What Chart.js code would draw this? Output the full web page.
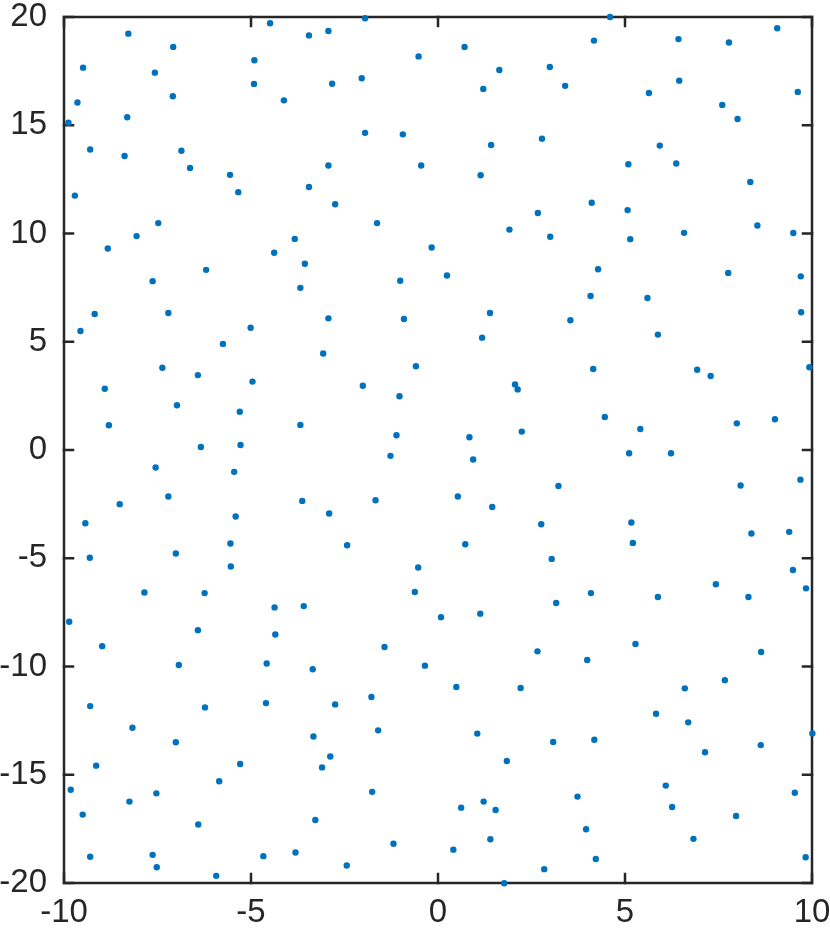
<!DOCTYPE html>
<html>
<head>
<meta charset="utf-8">
<script src="https://cdn.jsdelivr.net/npm/chart.js@4/dist/chart.umd.min.js"></script>
<style>
  html, body { margin: 0; padding: 0; background: #ffffff; }
  #wrap { width: 830px; height: 928px; }
</style>
</head>
<body>
<div id="wrap"><canvas id="scatterChart" width="830" height="928"></canvas></div>
<script>
// tick values / labels
const xTickValues = [-10, -5, 0, 5, 10];
const xTickLabels = ["-10", "-5", "0", "5", "10"];
const yTickValues = [-20, -15, -10, -5, 0, 5, 10, 15, 20];
const yTickLabels = ["-20", "-15", "-10", "-5", "0", "5", "10", "15", "20"];

// points (upper half, x < 0)
const xUpperLeft = [-8.28, -7.08, -9.49, -7.57, -9.64, -7.09, -8.31, -9.88, -9.30, -8.38, -6.86, -6.63, -5.56, -5.34,
    -9.71, -7.48, -8.06, -8.83, -6.20, -7.63, -4.49, -3.45, -2.93, -1.95, -4.91, -4.92, -2.83, -2.04, -4.12, -0.52,
    -1.95, -0.94, -2.93, -0.45, -3.45, -2.75, -1.63, -3.83, -4.38, -3.56, -3.68, -1.01];
const yUpperLeft = [19.23, 18.62, 17.66, 17.43, 16.05, 16.34, 15.37, 15.12, 13.88, 13.58, 13.82, 13.03, 12.71, 11.91,
    11.75, 10.48, 9.88, 9.31, 8.32, 7.80, 19.71, 19.15, 19.35, 19.94, 18.00, 16.91, 16.92, 17.17, 16.15, 18.18,
    14.65, 14.58, 13.14, 13.14, 12.15, 11.35, 10.48, 9.75, 9.11, 8.60, 7.49, 7.82];

// upper, x > 0
const xUpperRight = [4.60, 0.71, 4.17, 6.43, 7.78, 9.07, 1.64, 2.99, 1.21, 3.40, 5.64, 6.45, 9.62, 7.60, 8.01, 1.42,
    2.78, 5.93, 5.09, 6.37, 1.14, 8.35, 4.11, 2.67, 5.07, 1.91, 3.00, 5.14, 6.58, 8.54, 9.50, -0.17, 0.24, 4.28,
    7.76, 9.70, 4.08, 5.60];
const yUpperRight = [20.0, 18.62, 18.91, 18.98, 18.82, 19.48, 17.55, 17.69, 16.68, 16.82, 16.49, 17.06, 16.54, 15.94,
    15.29, 14.09, 14.38, 14.06, 13.20, 13.23, 12.69, 12.38, 11.42, 10.95, 11.08, 10.18, 9.85, 9.74, 10.03, 10.37,
    10.02, 9.35, 8.06, 8.35, 8.18, 8.02, 7.11, 7.02];

// middle band, x < 0
const xMiddleLeft = [-9.18, -7.21, -9.56, -5.01, -2.93, -0.91, -5.75, -3.07, -7.37, -6.42, -4.96, -0.59, -8.91, -2.01,
    -1.03, -6.98, -5.30, -8.80, -3.68, -1.11, -6.34, -5.28, -1.27, -7.55, -5.45, -7.21, -8.51, -3.63, -1.67, -2.91,
    -9.43, -5.41, -5.55, -2.43, -9.31, -7.01, -5.54, -0.53];
const yMiddleLeft = [6.28, 6.33, 5.50, 5.65, 6.08, 6.05, 4.90, 4.46, 3.80, 3.46, 3.16, 3.87, 2.83, 2.97, 2.48, 2.07,
    1.77, 1.14, 1.16, 0.68, 0.14, 0.23, -0.27, -0.81, -1.01, -2.15, -2.50, -2.35, -2.32, -2.93, -3.38, -3.07,
    -4.32, -4.40, -4.98, -4.78, -5.38, -5.43];

// middle band, x > 0
const xMiddleRight = [1.39, 3.54, 9.71, 1.18, 5.88, 4.15, 6.93, 7.29, 9.93, 2.06, 2.13, 4.46, 7.99, 9.01, 5.41, 0.84,
    2.24, 0.94, 5.11, 6.23, 9.69, 3.22, 8.09, 0.53, 1.45, 2.76, 5.17, 8.38, 9.39, 0.73, 5.21, 3.04, 9.49, 7.43];
const yMiddleRight = [6.33, 5.99, 6.36, 5.19, 5.33, 3.74, 3.71, 3.42, 3.82, 3.03, 2.80, 1.53, 1.23, 1.42, 0.97, 0.59,
    0.85, -0.44, -0.15, -0.15, -1.37, -1.66, -1.64, -2.15, -2.63, -3.43, -3.35, -3.86, -3.78, -4.35, -4.29, -5.03,
    -5.54, -6.20];

// lower, x < 0
const xLowerLeft = [-7.85, -6.24, -0.62, -4.37, -3.59, -9.86, -6.42, -4.35, -8.98, -1.43, -6.93, -4.58, -3.35, -0.35,
    -9.30, -6.23, -4.60, -2.75, -1.78, -8.17, -7.01, -3.33, -1.60, -9.14, -5.29, -2.88, -3.10, -9.82, -7.53, -8.25,
    -5.85, -1.76, -9.50, -6.41, -3.28, -1.19, -9.30, -7.63, -7.52, -4.67, -3.81, -2.44, -5.93];
const yLowerLeft = [-6.58, -6.61, -6.56, -7.27, -7.21, -7.93, -8.32, -8.52, -9.06, -9.10, -9.93, -9.86, -10.13, -9.96,
    -11.83, -11.89, -11.69, -11.75, -11.41, -12.83, -13.50, -13.23, -12.95, -14.58, -14.50, -14.16, -14.66, -15.69,
    -15.86, -16.24, -15.30, -15.79, -16.84, -17.30, -17.09, -18.19, -18.79, -18.70, -19.27, -18.76, -18.59, -19.19,
    -19.67];

// lower, x > 0
const xLowerRight = [9.84, 4.09, 5.88, 8.30, 3.16, 0.08, 1.13, 2.66, 3.99, 5.28, 8.64, 0.49, 2.21, 6.60, 7.67, 5.83,
    6.69, 1.05, 3.08, 4.18, 1.84, 7.14, 8.63, 10.01, 6.09, 9.54, 0.62, 1.22, 1.54, 3.73, 6.26, 7.97, 0.41, 1.40,
    3.96, 6.83, 2.84, 4.22, 9.83, 1.77];
const yLowerRight = [-6.39, -6.61, -6.79, -6.79, -7.07, -7.72, -7.56, -9.30, -9.70, -8.96, -9.33, -10.95, -10.99,
    -11.01, -10.63, -12.18, -12.58, -13.10, -13.49, -13.38, -14.36, -13.96, -13.63, -13.09, -15.50, -15.83, -16.52,
    -16.24, -16.63, -16.01, -16.49, -16.90, -18.46, -17.98, -17.52, -17.96, -19.36, -18.89, -18.81, -20.01];

const xs = [].concat(xUpperLeft, xUpperRight, xMiddleLeft, xMiddleRight, xLowerLeft, xLowerRight);
const ys = [].concat(yUpperLeft, yUpperRight, yMiddleLeft, yMiddleRight, yLowerLeft, yLowerRight);
const points = xs.map((x, i) => ({ x: x, y: ys[i] }));

const axisColor = "#262626";
const tickFont = { family: "'Liberation Sans', Arial, Helvetica, sans-serif", size: 33, lineHeight: 1 };

// MATLAB style box with inward ticks on all four sides
const axesBox = {
    id: "axesBox",
    beforeDatasetsDraw(chart, args, options) {
        const {
            ctx,
            chartArea: { left, top, right, bottom },
            scales: { x, y },
        } = chart;
        const len = options.tickLength;
        ctx.save();
        ctx.strokeStyle = axisColor;
        ctx.lineWidth = options.lineWidth;
        ctx.lineCap = "square";
        ctx.strokeRect(left, top, right - left, bottom - top);
        ctx.beginPath();
        xTickValues.forEach((v) => {
            const px = x.getPixelForValue(v);
            ctx.moveTo(px, bottom);
            ctx.lineTo(px, bottom - len);
            ctx.moveTo(px, top);
            ctx.lineTo(px, top + len);
        });
        yTickValues.forEach((v) => {
            const py = y.getPixelForValue(v);
            ctx.moveTo(left, py);
            ctx.lineTo(left + len, py);
            ctx.moveTo(right, py);
            ctx.lineTo(right - len, py);
        });
        ctx.stroke();
        ctx.restore();
    },
};

const config = {
    type: "scatter",
    data: {
        datasets: [
            {
                data: points,
                backgroundColor: "#0072BD",
                borderWidth: 0,
                pointRadius: 3.2,
                pointHoverRadius: 3.2,
                clip: false,
            },
        ],
    },
    options: {
        responsive: false,
        animation: false,
        events: [],
        layout: {
            padding: { top: 17, right: 18, left: 0, bottom: 0 },
        },
        plugins: {
            legend: { display: false },
            tooltip: { enabled: false },
            axesBox: { tickLength: 9, lineWidth: 2.5 },
        },
        scales: {
            x: {
                type: "linear",
                min: -10,
                max: 10,
                grid: { display: false, drawTicks: false },
                border: { display: false },
                afterFit: (s) => {
                    s.height = 45;
                    s.paddingLeft = 0;
                    s.paddingRight = 0;
                },
                afterBuildTicks: (s) => { s.ticks = xTickValues.map((v) => ({ value: v })); },
                ticks: {
                    color: axisColor,
                    font: tickFont,
                    padding: 13,
                    maxRotation: 0,
                    callback: (v) => xTickLabels[xTickValues.indexOf(v)],
                },
            },
            y: {
                type: "linear",
                min: -20,
                max: 20,
                grid: { display: false, drawTicks: false },
                border: { display: false },
                afterFit: (s) => {
                    s.width = 64;
                    s.paddingTop = 0;
                    s.paddingBottom = 0;
                },
                afterBuildTicks: (s) => { s.ticks = yTickValues.map((v) => ({ value: v })); },
                ticks: {
                    color: axisColor,
                    font: tickFont,
                    padding: 17,
                    callback: (v) => yTickLabels[yTickValues.indexOf(v)],
                },
            },
        },
    },
    plugins: [axesBox],
};

var ctx = document.getElementById("scatterChart").getContext("2d");
var scatterChart = new Chart(ctx, config);
</script>
</body>
</html>
